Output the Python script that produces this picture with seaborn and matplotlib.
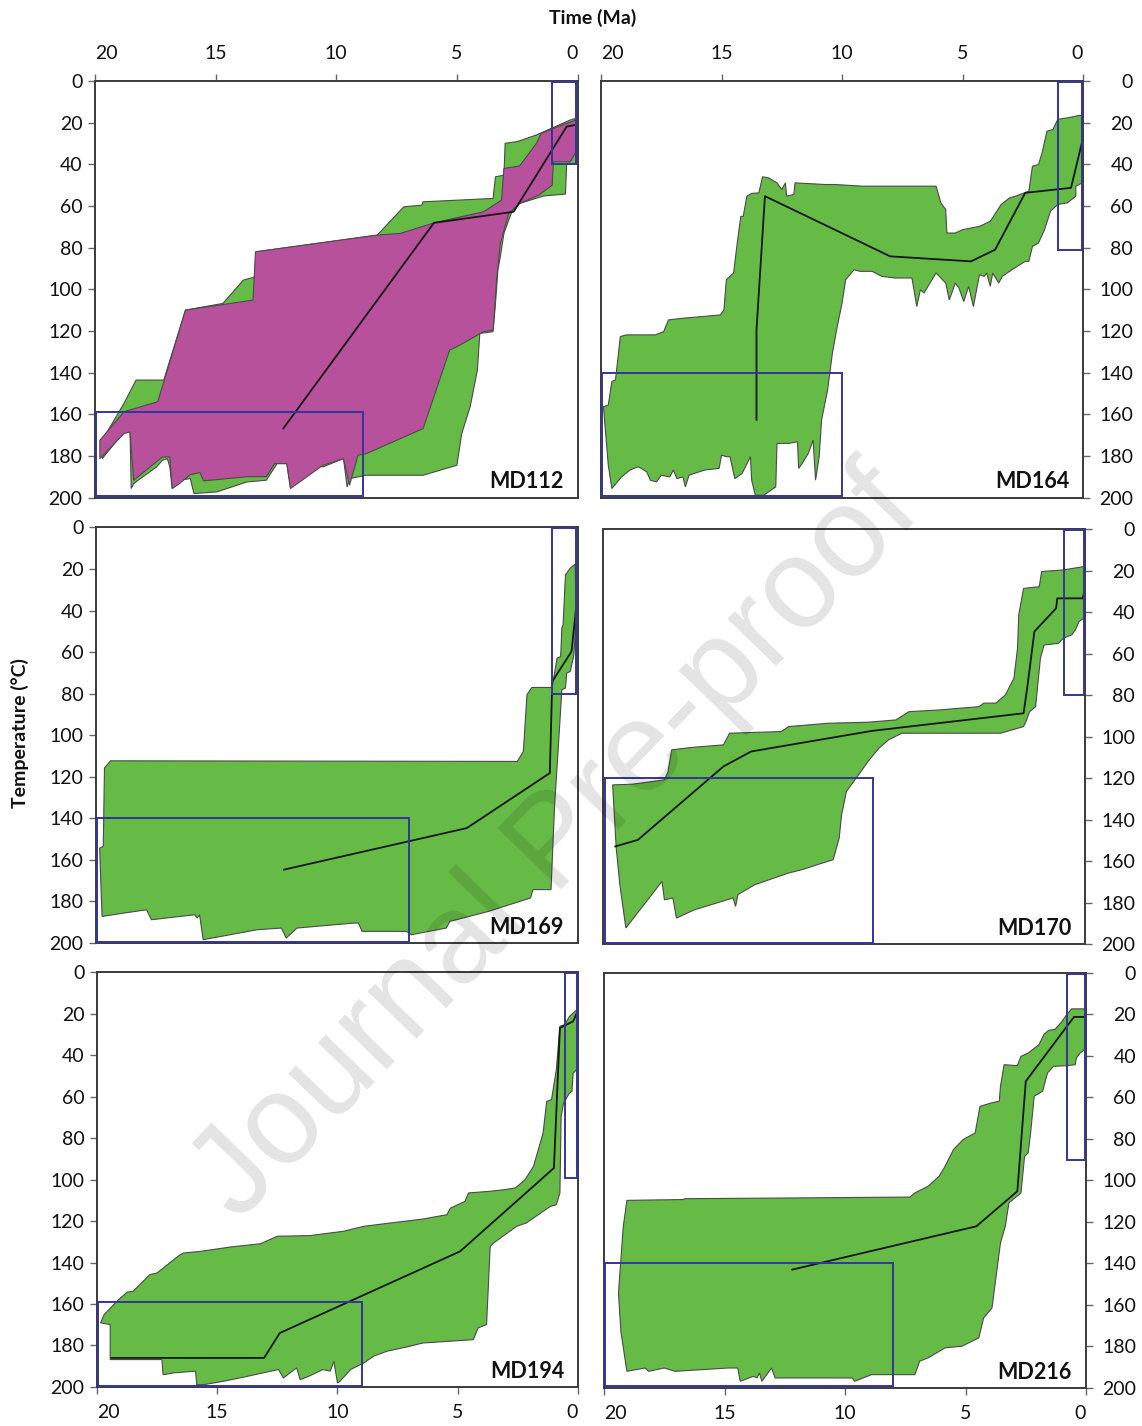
import matplotlib
matplotlib.use('Agg')
import matplotlib.pyplot as plt
import seaborn as sns
from matplotlib.patches import Rectangle

sns.set_theme(style='white')
plt.rcParams['font.family'] = ['Lato', 'DejaVu Sans']

# ---------------- data ----------------
TIME_TICKS = [20, 15, 10, 5, 0]
TEMP_TICKS = [0, 20, 40, 60, 80, 100, 120, 140, 160, 180, 200]
SAMPLES = ['MD112', 'MD164', 'MD169', 'MD170', 'MD194', 'MD216']

# envelopes: [time (Ma), temperature (degC)] outlines
MD112_GREEN = [
    (19.7, 172.5), (18.8, 154.8), (18.3, 143.6), (17.15, 143.6), (16.25, 110.0), (14.7, 106.8),
    (13.85, 95.6), (13.35, 94.0), (13.3, 82.0), (8.3, 74.0), (7.2, 60.4), (6.45, 59.6), (6.4, 58.0),
    (3.5, 56.4), (3.4, 46.0), (3.05, 45.2), (3.0, 29.9), (2.5, 29.1), (1.7, 25.9), (0.3, 18.7),
    (0.05, 17.9),
    (0.05, 39.6), (0.45, 40.0), (0.5, 54.3), (1.4, 55.2), (2.4, 58.8), (2.7, 62.0), (3.05, 73.2),
    (3.2, 84.4), (3.3, 90.8), (3.4, 106.8), (3.5, 120.4), (4.05, 121.2), (4.15, 138.8), (4.45, 156.4),
    (4.8, 169.3), (5.0, 184.5), (6.4, 189.3), (8.75, 189.3), (9.45, 190.9), (9.55, 194.9), (9.7, 181.3),
    (10.55, 185.3), (10.8, 184.5), (11.9, 194.9), (12.05, 183.7), (12.45, 183.7), (12.9, 191.7),
    (13.7, 192.5), (14.95, 197.3), (15.9, 198.1), (16.05, 190.9), (16.5, 191.7), (16.8, 195.7),
    (16.9, 185.3), (17.0, 181.3), (17.2, 182.1), (17.45, 185.3), (18.4, 193.3), (18.5, 195.7),
    (18.55, 167.7), (18.8, 168.5), (19.7, 181.3),
]
MD112_MAGENTA = [
    (19.8, 172.5), (18.8, 158.8), (17.4, 154.0), (16.25, 110.0), (13.45, 105.2), (13.35, 82.0),
    (8.3, 74.0), (7.35, 73.2), (5.95, 68.1), (3.9, 62.8), (3.15, 57.2), (3.05, 42.0), (2.4, 40.8),
    (1.7, 29.9), (1.5, 25.1), (0.45, 20.3), (0.05, 18.7),
    (0.05, 33.9), (0.3, 38.8), (1.0, 38.8), (1.05, 50.0), (1.6, 54.8), (2.4, 58.8), (2.85, 63.6),
    (3.2, 78.0), (3.35, 95.0), (3.5, 119.6), (3.9, 120.4), (5.0, 127.6), (5.3, 129.2), (6.4, 166.9),
    (8.75, 178.9), (9.1, 179.7), (9.45, 194.1), (9.7, 181.3), (10.55, 184.5), (11.9, 195.7),
    (12.05, 183.7), (12.55, 183.7), (12.9, 190.0), (13.7, 190.0), (15.5, 192.0), (15.65, 188.0),
    (16.05, 189.0), (16.5, 193.3), (16.8, 195.7), (16.9, 180.5), (17.2, 180.5), (18.4, 191.7),
    (18.55, 168.5), (18.8, 169.3), (19.8, 181.3),
]
MD164_GREEN = [
    (19.9, 156.4), (19.7, 155.6), (19.55, 144.3), (19.4, 143.5), (19.2, 122.7), (18.95, 121.9),
    (17.75, 121.9), (17.4, 120.3), (17.2, 114.7), (16.6, 113.9), (15.8, 113.1), (15.05, 112.3),
    (14.9, 109.9), (14.8, 95.4), (14.5, 92.2), (14.35, 77.8), (14.2, 65.0), (14.1, 65.0), (13.95, 55.3),
    (13.75, 54.0), (13.45, 53.7), (13.3, 46.0), (13.05, 46.5), (12.7, 48.9), (12.5, 52.1),
    (12.35, 48.9), (12.3, 55.3), (12.0, 54.5), (11.95, 48.9), (10.7, 49.7), (10.3, 49.7), (9.15, 50.5),
    (6.1, 50.5), (5.9, 58.5), (5.7, 61.7), (5.65, 73.0), (5.3, 73.0), (5.0, 71.4), (4.3, 69.8),
    (3.85, 67.4), (3.4, 59.3), (3.05, 56.1), (2.8, 55.3), (2.25, 52.9), (2.1, 40.9), (1.85, 40.1),
    (1.7, 34.5), (1.5, 24.1), (1.25, 23.3), (1.05, 18.4), (0.6, 17.6), (0.15, 16.5), (0.05, 16.8),
    (0.05, 49.0), (0.3, 50.5), (0.3, 55.3), (0.65, 58.5), (1.05, 59.3), (1.35, 62.5), (1.6, 71.4),
    (1.85, 77.8), (2.1, 79.4), (2.25, 86.6), (2.4, 86.6), (2.95, 90.6), (3.35, 93.8), (3.5, 97.0),
    (3.75, 92.2), (3.85, 98.6), (4.0, 92.2), (4.1, 93.8), (4.3, 93.0), (4.55, 108.3), (4.75, 98.6),
    (4.95, 105.9), (5.15, 99.4), (5.3, 97.0), (5.55, 105.1), (5.7, 97.0), (6.1, 92.2), (6.6, 101.8),
    (6.75, 100.2), (6.9, 108.3), (7.1, 94.6), (7.8, 94.6), (8.35, 93.8), (8.75, 91.4), (9.25, 91.4),
    (9.5, 90.6), (9.85, 95.4), (10.0, 106.7), (10.2, 117.9), (10.4, 130.7), (10.6, 148.4),
    (10.85, 162.8), (10.95, 180.4), (11.1, 191.7), (11.2, 172.4), (11.4, 178.8), (11.65, 183.6),
    (11.8, 186.0), (11.85, 173.2), (12.2, 174.0), (12.7, 174.0), (12.75, 194.9), (13.25, 198.9),
    (13.6, 198.9), (13.75, 191.7), (13.8, 180.4), (14.15, 188.5), (14.45, 190.9), (14.65, 180.4),
    (14.8, 180.4), (15.0, 179.6), (15.1, 186.0), (15.7, 186.8), (16.35, 189.3), (16.5, 194.9),
    (16.6, 190.1), (16.85, 190.9), (17.0, 186.8), (17.15, 190.1), (17.5, 189.3), (17.7, 192.5),
    (17.95, 191.7), (18.1, 187.7), (18.45, 185.2), (18.8, 186.8), (19.15, 190.1), (19.55, 195.7),
    (19.7, 184.4),
]
MD169_GREEN = [
    (19.85, 154.3), (19.7, 153.5), (19.65, 115.8), (19.4, 112.3), (2.5, 112.6), (2.25, 107.8),
    (2.1, 80.5), (1.9, 77.0), (1.05, 77.0), (1.0, 73.3), (0.85, 62.9), (0.7, 62.1), (0.65, 48.4),
    (0.6, 46.8), (0.5, 22.8), (0.3, 19.6), (0.1, 17.6),
    (0.05, 42.0), (0.15, 61.3), (0.3, 69.3), (0.45, 70.1), (0.5, 77.3), (0.65, 78.1), (0.8, 106.2),
    (0.95, 133.4), (1.1, 174.3), (1.85, 174.3), (1.95, 178.3), (3.7, 184.8), (5.3, 189.6),
    (5.45, 192.8), (6.9, 196.0), (7.1, 194.4), (8.95, 194.4), (9.1, 190.4), (9.3, 190.4),
    (11.65, 192.8), (12.1, 197.6), (12.3, 192.8), (13.3, 193.6), (15.55, 198.4), (15.7, 186.4),
    (15.8, 188.0), (15.9, 186.4), (17.7, 188.8), (17.9, 184.0), (18.85, 185.6), (19.75, 187.2),
]
MD170_GREEN = [
    (19.6, 123.3), (18.8, 123.0), (17.45, 120.9), (17.3, 116.9), (17.15, 106.4), (16.35, 105.3),
    (15.0, 104.0), (14.75, 98.4), (12.6, 97.6), (12.3, 95.2), (10.65, 93.6), (9.0, 93.1), (7.85, 92.0),
    (7.3, 88.0), (6.05, 87.2), (4.4, 85.6), (4.2, 83.9), (3.7, 83.9), (3.3, 79.9), (2.95, 71.9),
    (2.8, 57.5), (2.75, 41.4), (2.55, 28.6), (1.9, 27.8), (1.8, 20.5), (0.9, 19.7), (0.05, 18.1),
    (0.05, 43.0), (0.25, 44.6), (0.4, 48.6), (0.55, 51.0), (0.9, 52.6), (1.1, 55.1), (1.7, 55.9),
    (1.85, 62.3), (2.05, 85.6), (2.3, 88.0), (2.45, 92.8), (2.55, 95.2), (3.5, 98.4), (6.5, 98.4),
    (7.6, 98.4), (8.15, 101.6), (8.55, 105.6), (9.0, 112.0), (9.35, 117.7), (9.6, 121.7), (9.9, 126.5),
    (10.1, 137.7), (10.2, 149.0), (10.45, 159.4), (10.9, 161.0), (11.75, 164.2), (12.3, 165.8),
    (13.7, 171.4), (14.4, 176.2), (14.5, 181.9), (14.6, 177.8), (16.2, 183.5), (16.95, 187.5),
    (17.1, 177.8), (17.45, 178.7), (17.55, 169.8), (19.05, 192.3), (19.3, 171.4), (19.45, 153.8),
]
MD194_GREEN = [
    (19.85, 169.1), (19.7, 165.1), (19.3, 160.3), (19.1, 157.9), (18.75, 154.3), (18.5, 153.9),
    (17.8, 145.8), (17.5, 145.0), (16.6, 136.7), (16.4, 135.4), (15.7, 134.6), (14.45, 132.5),
    (13.2, 130.9), (12.5, 127.3), (11.15, 127.0), (9.75, 124.9), (8.9, 122.5), (7.8, 120.9),
    (6.45, 119.0), (5.45, 116.9), (5.3, 113.7), (4.7, 110.5), (4.55, 106.4), (3.65, 105.6),
    (3.05, 104.8), (2.6, 104.0), (2.2, 100.0), (1.85, 93.6), (1.45, 77.5), (1.3, 62.2), (1.1, 61.4),
    (0.9, 46.9), (0.75, 26.0), (0.55, 25.2), (0.35, 21.2), (0.05, 18.0),
    (0.05, 46.9), (0.2, 48.6), (0.25, 57.4), (0.35, 58.2), (0.6, 63.0), (0.7, 69.5), (0.75, 106.4),
    (0.9, 112.1), (1.15, 112.9), (2.15, 120.9), (2.55, 122.5), (3.5, 130.5), (3.65, 132.2),
    (3.8, 169.9), (4.15, 171.5), (4.35, 177.2), (6.45, 178.8), (7.0, 180.4), (7.95, 182.8),
    (8.5, 185.2), (8.9, 188.4), (9.45, 191.6), (9.9, 197.3), (10.0, 198.1), (10.15, 187.6),
    (10.3, 192.4), (10.6, 191.6), (11.2, 194.9), (11.55, 196.5), (11.7, 190.8), (12.25, 195.7),
    (12.45, 191.6), (13.75, 194.9), (14.75, 197.3), (15.55, 198.9), (15.85, 198.9), (15.9, 192.4),
    (16.8, 193.2), (17.25, 194.1), (17.3, 186.8), (19.45, 186.8), (19.45, 169.9),
]
MD216_GREEN = [
    (19.4, 154.2), (19.2, 122.1), (19.05, 109.6), (16.7, 109.2), (16.65, 108.8), (11.65, 108.4),
    (7.3, 108.0), (7.1, 106.0), (6.55, 102.8), (6.1, 98.0), (5.85, 93.2), (5.5, 85.1), (5.1, 80.3),
    (4.6, 77.1), (4.4, 64.3), (3.95, 62.7), (3.6, 61.8), (3.55, 54.6), (3.4, 44.2), (2.85, 44.7),
    (2.7, 40.2), (2.4, 38.6), (1.95, 34.5), (1.75, 29.7), (1.55, 27.6), (1.3, 27.3), (1.05, 24.1),
    (0.8, 20.1), (0.6, 17.3), (0.05, 17.3),
    (0.05, 36.9), (0.25, 38.6), (0.4, 41.0), (0.45, 44.2), (0.8, 44.7), (1.35, 45.0), (1.6, 48.2),
    (1.8, 57.0), (2.15, 59.4), (2.3, 77.1), (2.4, 86.7), (2.55, 88.4), (2.7, 106.0), (2.95, 108.4),
    (3.2, 110.8), (3.35, 122.1), (3.55, 130.1), (3.75, 147.8), (3.9, 161.4), (4.25, 166.3),
    (4.45, 175.9), (5.15, 179.9), (5.85, 180.7), (6.55, 185.5), (6.9, 187.1), (7.1, 193.6),
    (8.9, 193.6), (9.6, 196.8), (9.7, 195.2), (12.1, 195.2), (12.9, 195.2), (13.05, 190.4),
    (13.45, 196.8), (13.55, 192.8), (13.65, 195.2), (13.8, 194.4), (14.35, 196.8), (14.45, 190.4),
    (14.85, 190.4), (17.05, 192.0), (17.5, 190.4), (18.15, 192.0), (18.3, 190.4), (19.05, 192.0),
    (19.3, 172.7),
]

# best-fit thermal paths
MD112_PATH_TIME = [12.2, 5.95, 2.65, 0.45, 0.1]
MD112_PATH_TEMP = [166.9, 68.1, 62.8, 21.9, 21.1]
MD164_PATH_TIME = [13.55, 13.55, 13.2, 8.0, 4.65, 3.65, 2.4, 0.5, 0.05]
MD164_PATH_TEMP = [162.8, 119.5, 55.3, 84.2, 86.6, 81.0, 53.7, 51.3, 29.7]
MD169_PATH_TIME = [12.2, 4.6, 1.15, 1.05, 0.25, 0.1, 0.05]
MD169_PATH_TEMP = [164.7, 144.7, 118.2, 74.1, 59.7, 43.6, 37.0]
MD170_PATH_TIME = [19.5, 18.55, 15.0, 13.85, 8.85, 2.55, 2.4, 2.1, 1.2, 1.15, 0.1, 0.05]
MD170_PATH_TEMP = [153.0, 149.8, 114.4, 107.2, 97.3, 88.8, 76.7, 49.4, 38.2, 33.4, 33.4, 31.0]
MD194_PATH_TIME = [19.4, 13.05, 12.4, 4.9, 1.0, 0.75, 0.2, 0.05]
MD194_PATH_TEMP = [186.0, 186.0, 174.0, 134.6, 94.4, 26.8, 23.6, 19.6]
MD216_PATH_TIME = [12.2, 4.55, 2.85, 2.5, 0.5, 0.05]
MD216_PATH_TEMP = [143.0, 122.1, 105.2, 52.2, 21.2, 21.2]

# constraint boxes: (t_young, t_old, T_low, T_high)
MD112_BOXES = [(8.9, 19.95, 159, 199.5), (0.05, 1.05, 0.3, 40)]
MD164_BOXES = [(10.0, 19.95, 140, 199.5), (0.05, 1.05, 0.3, 81)]
MD169_BOXES = [(7.0, 19.95, 140, 199.5), (0.05, 1.05, 0.3, 80)]
MD170_BOXES = [(8.8, 19.9, 120, 199.5), (0.05, 0.87, 0.3, 80)]
MD194_BOXES = [(9.0, 19.95, 159, 199.5), (0.05, 0.54, 0.3, 99)]
MD216_BOXES = [(8.0, 19.95, 140, 199), (0.05, 0.8, 0.3, 90)]

GREENS = [MD112_GREEN, MD164_GREEN, MD169_GREEN, MD170_GREEN, MD194_GREEN, MD216_GREEN]
MAGENTAS = [MD112_MAGENTA, None, None, None, None, None]
PATHS = [(MD112_PATH_TIME, MD112_PATH_TEMP), (MD164_PATH_TIME, MD164_PATH_TEMP),
         (MD169_PATH_TIME, MD169_PATH_TEMP), (MD170_PATH_TIME, MD170_PATH_TEMP),
         (MD194_PATH_TIME, MD194_PATH_TEMP), (MD216_PATH_TIME, MD216_PATH_TEMP)]
BOXES = [MD112_BOXES, MD164_BOXES, MD169_BOXES, MD170_BOXES, MD194_BOXES, MD216_BOXES]

# ---------------- styling ----------------
GREEN = '#66BB46'
MAGENTA = '#B8519B'
EDGE = '#4a4a4a'
BOX_BLUE = '#34359A'
SPINE = '#3a3a3a'

# axes rectangles in figure fractions [left, bottom, width, height]
AX_POS = [
    [0.0832, 0.6511, 0.4225, 0.2921], [0.5263, 0.6511, 0.4221, 0.2921],
    [0.0841, 0.3387, 0.4216, 0.2914], [0.5280, 0.3380, 0.4221, 0.2910],
    [0.0849, 0.0274, 0.4212, 0.2907], [0.5289, 0.0267, 0.4221, 0.2910],
]

fig = plt.figure(figsize=(11.42, 14.26), dpi=100)

for i, name in enumerate(SAMPLES):
    ax = fig.add_axes(AX_POS[i])
    row, col = divmod(i, 2)

    g = GREENS[i]
    ax.fill([p[0] for p in g], [p[1] for p in g], facecolor=GREEN, edgecolor=EDGE,
            linewidth=0.8, zorder=2)
    if MAGENTAS[i] is not None:
        m = MAGENTAS[i]
        ax.fill([p[0] for p in m], [p[1] for p in m], facecolor=MAGENTA, edgecolor=EDGE,
                linewidth=0.8, zorder=3)
    pt, pT = PATHS[i]
    sns.lineplot(x=pt, y=pT, sort=False, estimator=None, color='#151515', linewidth=1.3,
                 ax=ax, zorder=4)
    for (t0, t1, T0, T1) in BOXES[i]:
        ax.add_patch(Rectangle((t0, T0), t1 - t0, T1 - T0, fill=False, edgecolor=BOX_BLUE,
                               linewidth=1.4, zorder=5, clip_on=False))

    ax.set_xlim(20, 0)
    ax.set_ylim(200, 0)
    ax.set_xticks(TIME_TICKS)
    ax.set_yticks(TEMP_TICKS)
    ax.set_xticklabels([str(v) for v in TIME_TICKS])
    ax.set_yticklabels([str(v) for v in TEMP_TICKS])
    ax.set_xlabel('')
    ax.set_ylabel('')
    ax.grid(False)
    for s in ax.spines.values():
        s.set_visible(True)
        s.set_color(SPINE)
        s.set_linewidth(1.4)
        s.set_zorder(4.5)

    ax.tick_params(axis='both', direction='out', length=5, width=1, color='#666666',
                   labelsize=14, labelcolor='#111111')

    # x ticks
    if row == 0:
        ax.tick_params(axis='x', top=True, bottom=False, labeltop=True, labelbottom=False, pad=9)
    elif row == 1:
        ax.tick_params(axis='x', top=False, bottom=False, labeltop=False, labelbottom=False)
    else:
        ax.tick_params(axis='x', top=False, bottom=True, labeltop=False, labelbottom=True, pad=7)
    if row != 1:
        xl = ax.get_xticklabels(minor=False)
        xl[0].set_ha('left')
        xl[-1].set_ha('right')

    # y ticks
    if col == 0:
        ax.tick_params(axis='y', left=True, right=False, labelleft=True, labelright=False, pad=4)
    else:
        ax.tick_params(axis='y', left=False, right=True, labelleft=False, labelright=True, pad=31)
        for lbl in ax.get_yticklabels():
            lbl.set_ha('right')

    ax.text(0.971, 0.022, name, transform=ax.transAxes, ha='right', va='baseline',
            fontsize=15.5, fontweight='bold', color='#111111', zorder=6)

fig.text(0.519, 0.9874, 'Time (Ma)', ha='center', va='center', fontsize=14,
         fontweight='bold', color='#111111')
fig.text(0.0175, 0.486, 'Temperature (\u00b0C)', ha='center', va='center', rotation=90,
         fontsize=14, fontweight='bold', color='#111111')

fig.text(0.488, 0.407, 'Journal Pre-proof', ha='center', va='center', rotation=46,
         rotation_mode='anchor', fontsize=92, family=['Liberation Sans', 'DejaVu Sans'],
         color='black', alpha=0.11, zorder=20)

fig.savefig('out.png', dpi=100, facecolor='white')
